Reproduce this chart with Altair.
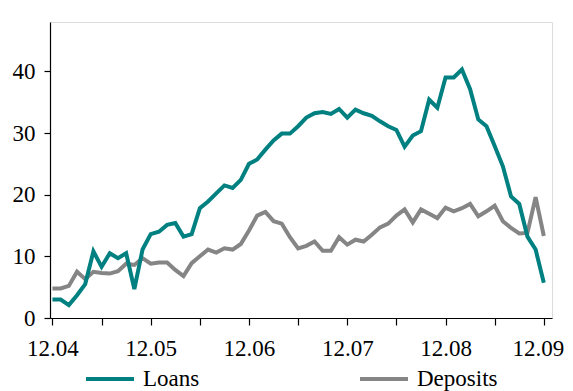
import altair as alt
import pandas as pd

# Monthly observations, 12.04 .. 12.09 (61 months)
years = [2004, 2005, 2006, 2007, 2008, 2009]
months = ["12.04"] + [f"{m:02d}.{y % 100:02d}" for y in years[1:] for m in range(1, 13)]

loans = [3.0, 3.0, 2.1, 3.7, 5.5, 10.8, 8.3, 10.5, 9.7, 10.5, 4.7,
         11.1, 13.6, 14.0, 15.1, 15.4, 13.2, 13.6, 17.8, 18.9, 20.2,
         21.5, 21.1, 22.4, 25.0, 25.7, 27.3, 28.8, 29.9, 29.9, 31.1, 32.5,
         33.2, 33.4, 33.1, 33.9, 32.5, 33.8, 33.2, 32.8, 31.9, 31.1,
         30.5, 27.8, 29.6, 30.3, 35.4, 34.1, 39.0, 39.0, 40.3, 37.1, 32.2,
         31.1, 27.9, 24.6, 19.7, 18.5, 13.2, 11.1, 5.7]

deposits = [4.8, 4.8, 5.2, 7.5, 6.3, 7.5, 7.3, 7.2, 7.6, 8.8, 8.6,
            9.7, 8.8, 9.0, 9.0, 7.8, 6.8, 8.9, 10.0, 11.1, 10.6,
            11.3, 11.1, 12.0, 14.2, 16.6, 17.2, 15.7, 15.3, 13.1, 11.3, 11.7,
            12.4, 10.9, 10.9, 13.1, 11.9, 12.7, 12.4, 13.5, 14.7, 15.3,
            16.6, 17.6, 15.5, 17.6, 16.9, 16.2, 17.9, 17.3, 17.8, 18.5, 16.5,
            17.3, 18.2, 15.7, 14.6, 13.7, 13.8, 19.6, 13.3]

series_names = ["Loans", "Deposits"]
series_colors = ["#008080", "#858585"]
y_ticks = [0, 10, 20, 30, 40]

rows = []
for name, vals in zip(series_names, [loans, deposits]):
    for i, (m, v) in enumerate(zip(months, vals)):
        rows.append({"idx": i, "month": m, "series": name, "value": v})
df = pd.DataFrame(rows)

FONT = "Liberation Serif"

x_enc = alt.X(
    "idx:Q",
    scale=alt.Scale(domain=[-0.3, 61.0], nice=False, zero=False),
    axis=alt.Axis(
        values=list(range(0, 61, 6)),
        labelExpr="datum.value % 12 == 0 ? '12.0' + (4 + datum.value / 12) : ''",
        labelOffset={"condition": {"test": "datum.value == 60", "value": -6}, "value": 0},
        title=None, grid=False, domainColor="black", domainWidth=1.2,
        tickColor="black", tickSize=7, tickWidth=1.2,
        labelFont=FONT, labelFontSize=23, labelColor="black", labelPadding=12,
        labelOverlap=False,
    ),
)
y_enc = alt.Y(
    "value:Q",
    scale=alt.Scale(domain=[0, 48], nice=False),
    axis=alt.Axis(
        values=y_ticks, title=None, grid=False, domainColor="black", domainWidth=1.2,
        tickColor="black", tickSize=6, tickWidth=1.2,
        labelFont=FONT, labelFontSize=23, labelColor="black", labelPadding=9,
    ),
)
color_enc = alt.Color(
    "series:N",
    scale=alt.Scale(domain=series_names, range=series_colors),
    legend=alt.Legend(
        orient="none", legendX=34, legendY=331, direction="horizontal", title=None,
        symbolType="stroke", symbolSize=2304, symbolStrokeWidth=4,
        labelFont=FONT, labelFontSize=23, labelColor="black",
        labelOffset=7, columnPadding=152, padding=0,
    ),
)

base = alt.Chart(df)
dep_layer = base.transform_filter(alt.datum.series == "Deposits").mark_line(strokeWidth=4).encode(
    x=x_enc, y=y_enc, color=color_enc)
loan_layer = base.transform_filter(alt.datum.series == "Loans").mark_line(strokeWidth=4).encode(
    x=x_enc, y=y_enc, color=color_enc)

chart = alt.layer(dep_layer, loan_layer).properties(
    width=502, height=296,
    autosize=alt.AutoSizeParams(type="none"),
    padding={"left": 42, "top": 14, "right": 13, "bottom": 73},
).configure_view(stroke=None).configure(background="white")

chart.save("out.html", embed_options={"renderer": "svg", "actions": False})
